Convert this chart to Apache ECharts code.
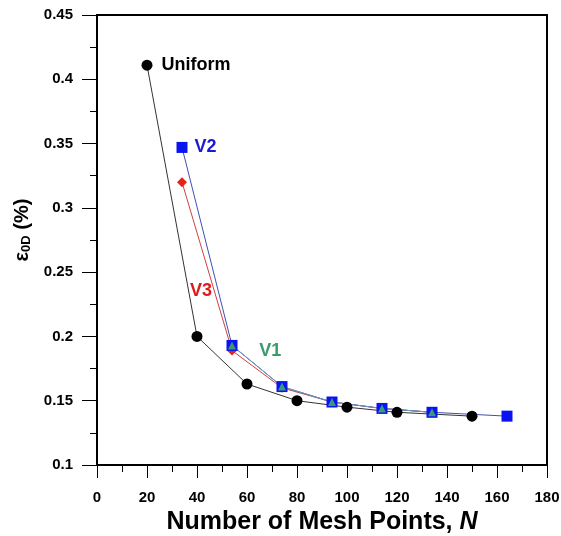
<!DOCTYPE html>
<html>
<head>
<meta charset="utf-8">
<script src="https://cdn.jsdelivr.net/npm/echarts@6/dist/echarts.min.js"></script>
<style>
    html, body { margin: 0; padding: 0; background: #fff; }
    #chart { width: 561px; height: 536px; }
</style>
</head>
<body>
<div id="chart"></div>
<script>
    // mesh study data
    const uniformN = [20, 40, 60, 80, 100, 120, 150];
    const uniformE = [0.411, 0.200, 0.163, 0.150, 0.145, 0.141, 0.138];
    const v3N = [34, 54, 74, 94, 114, 134];
    const v3E = [0.320, 0.189, 0.160, 0.149, 0.144, 0.141];
    const v2N = [34, 54, 74, 94, 114, 134, 164];
    const v2E = [0.347, 0.193, 0.161, 0.149, 0.144, 0.141, 0.138];
    const v1N = [54, 74, 94, 114, 134];
    const v1E = [0.193, 0.161, 0.149, 0.144, 0.141];

    const zip = (xs, ys) => xs.map((x, i) => [x, ys[i]]);
    const font = 'Liberation Sans, Arial, sans-serif';

    // label only the first point of a series
    function firstLabel(data, text, color, dx, dy) {
        return data.map((p, i) => i === 0 ? {
            value: p,
            label: {
                show: true, position: 'right', formatter: text, offset: [dx, dy],
                color: color, fontWeight: 'bold', fontSize: 18, fontFamily: font
            }
        } : p);
    }

    function tagPoint(x, y, text, color) {
        return {
            symbol: 'rect',
            symbolSize: [30, 20],
            silent: true,
            itemStyle: { color: 'rgba(0,0,0,0)' },
            data: [{
                coord: [x, y],
                label: {
                    show: true, position: 'inside', formatter: text,
                    color: color, fontWeight: 'bold', fontSize: 18, fontFamily: font
                }
            }]
        };
    }

    const chart = echarts.init(document.getElementById('chart'));
    chart.setOption({
        animation: false,
        grid: {
            left: 97, right: 14, top: 15, bottom: 71,
            outerBoundsMode: 'none', containLabel: false,
            show: true, borderColor: '#000', borderWidth: 2
        },
        xAxis: {
            type: 'value', min: 0, max: 180, interval: 20,
            name: '{b|Number of Mesh Points, }{i|N}',
            nameLocation: 'middle', nameGap: 43,
            nameTextStyle: {
                rich: {
                    b: { fontSize: 25, fontWeight: 'bold', fontFamily: font, color: '#000' },
                    i: { fontSize: 25, fontWeight: 'bold', fontStyle: 'italic', fontFamily: font, color: '#000' }
                }
            },
            axisLine: { onZero: false, lineStyle: { color: '#000', width: 2 } },
            axisTick: { inside: false, length: 13, lineStyle: { color: '#000' } },
            minorTick: { show: true, splitNumber: 2, length: 7, lineStyle: { color: '#000' } },
            axisLabel: { color: '#000', fontWeight: 'bold', fontSize: 15, fontFamily: font, margin: 25 },
            splitLine: { show: false }
        },
        yAxis: {
            type: 'value', min: 0.1, max: 0.45, interval: 0.05,
            name: '{e|ε}{s|0D}{e| (%)}',
            nameLocation: 'middle', nameGap: 54, nameRotate: 90,
            nameTextStyle: {
                padding: [0, 0, 0, 20],
                rich: {
                    e: { fontSize: 20, fontWeight: 'bold', fontFamily: font, color: '#000' },
                    s: { fontSize: 13, fontWeight: 'bold', fontFamily: font, color: '#000', verticalAlign: 'bottom', padding: [8, 0, 0, 0] }
                }
            },
            axisLine: { onZero: false, lineStyle: { color: '#000', width: 2 } },
            axisTick: { inside: false, length: 15, lineStyle: { color: '#000' } },
            minorTick: { show: true, splitNumber: 2, length: 7, lineStyle: { color: '#000' } },
            axisLabel: { color: '#000', fontWeight: 'bold', fontSize: 15, fontFamily: font, margin: 24 },
            splitLine: { show: false }
        },
        series: [
            {
                name: 'Uniform', type: 'line',
                data: firstLabel(zip(uniformN, uniformE), 'Uniform', '#000', 4, 0),
                symbol: 'circle', symbolSize: 11,
                itemStyle: { color: '#000' },
                lineStyle: { color: '#333', width: 1 }
            },
            {
                name: 'V3', type: 'line',
                data: zip(v3N, v3E),
                symbol: 'diamond', symbolSize: 10,
                itemStyle: { color: '#e5231b' },
                lineStyle: { color: '#d04040', width: 1 },
                markPoint: tagPoint(41.6, 0.235, 'V3', '#e01a1a')
            },
            {
                name: 'V2', type: 'line',
                data: firstLabel(zip(v2N, v2E), 'V2', '#1a1ad0', 2, 0),
                symbol: 'rect', symbolSize: 11,
                itemStyle: { color: '#0a14f0' },
                lineStyle: { color: '#4050b0', width: 1 }
            },
            {
                name: 'V1', type: 'line',
                data: zip(v1N, v1E),
                symbol: 'triangle', symbolSize: 8,
                itemStyle: { color: '#3a9a78' },
                lineStyle: { color: '#6a9ab8', width: 1 },
                markPoint: tagPoint(69.3, 0.189, 'V1', '#3a9a6a')
            }
        ]
    });
</script>
</body>
</html>
